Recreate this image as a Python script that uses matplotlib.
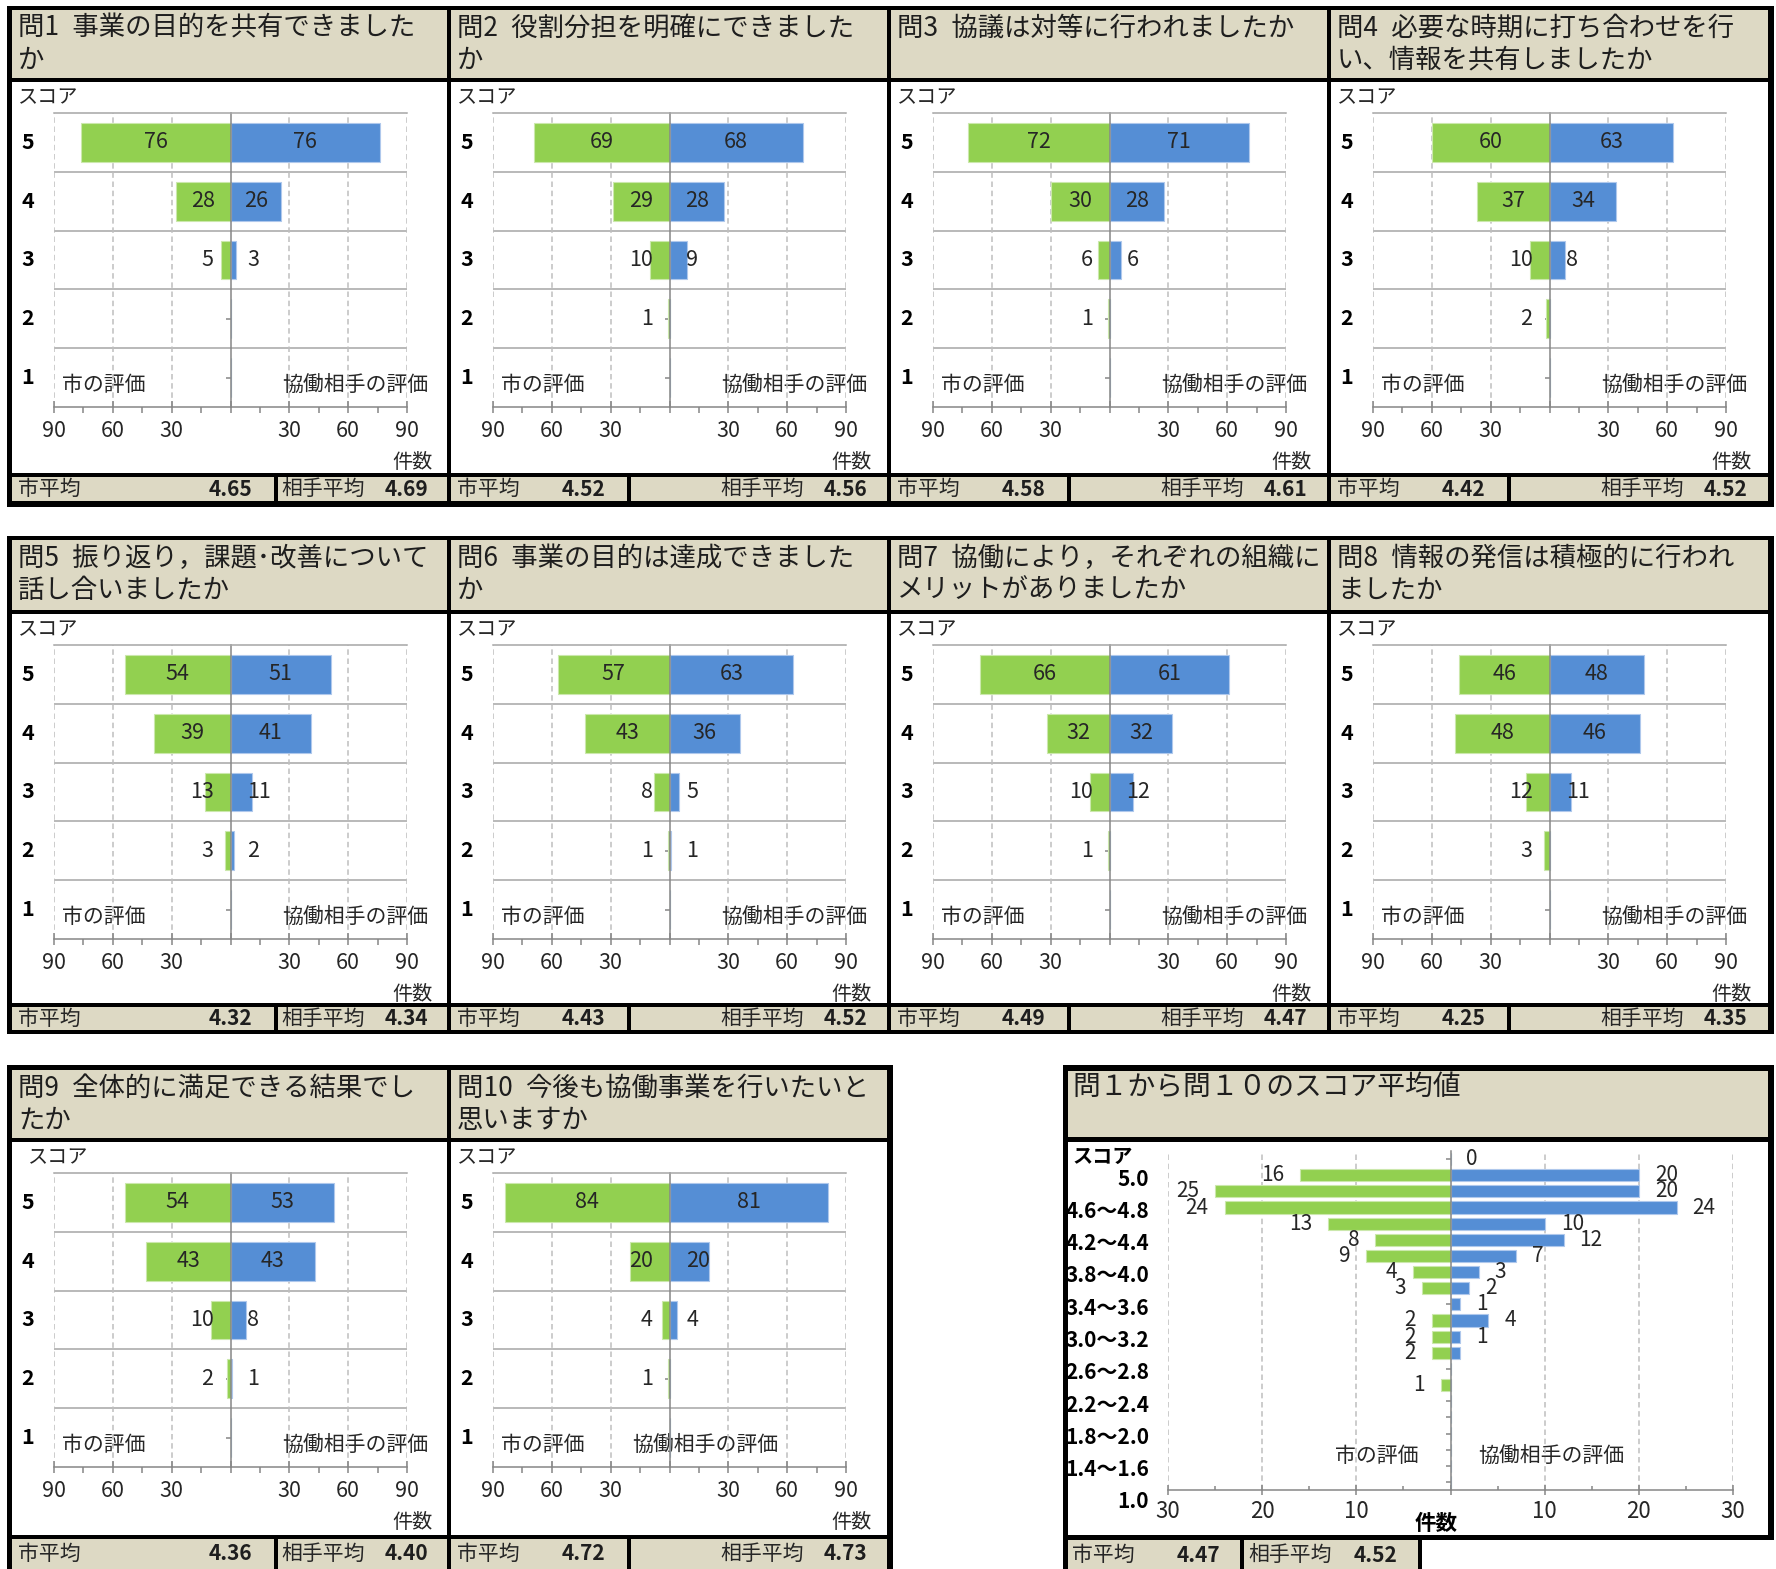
import matplotlib
matplotlib.use("Agg")
import matplotlib.pyplot as plt
from matplotlib.patches import Rectangle
from matplotlib.transforms import blended_transform_factory

plt.rcParams['font.family'] = ['Noto Sans CJK JP', 'DejaVu Sans']

# ---------------------------------------------------------------- data
scores = [5, 4, 3, 2, 1]

titles = [
    "問1\u2002事業の目的を共有できました\nか",
    "問2\u2002役割分担を明確にできました\nか",
    "問3\u2002協議は対等に行われましたか",
    "問4\u2002必要な時期に打ち合わせを行\nい、情報を共有しましたか",
    "問5\u2002振り返り，課題･改善について\n話し合いましたか",
    "問6\u2002事業の目的は達成できました\nか",
    "問7\u2002協働により，それぞれの組織に\nメリットがありましたか",
    "問8\u2002情報の発信は積極的に行われ\nましたか",
    "問9\u2002全体的に満足できる結果でし\nたか",
    "問10\u2002今後も協働事業を行いたいと\n思いますか",
]

# counts per score (5, 4, 3, 2, 1)
city_counts = [
    [76, 28, 5, 0, 0],
    [69, 29, 10, 1, 0],
    [72, 30, 6, 1, 0],
    [60, 37, 10, 2, 0],
    [54, 39, 13, 3, 0],
    [57, 43, 8, 1, 0],
    [66, 32, 10, 1, 0],
    [46, 48, 12, 3, 0],
    [54, 43, 10, 2, 0],
    [84, 20, 4, 1, 0],
]
partner_counts = [
    [76, 26, 3, 0, 0],
    [68, 28, 9, 0, 0],
    [71, 28, 6, 0, 0],
    [63, 34, 8, 0, 0],
    [51, 41, 11, 2, 0],
    [63, 36, 5, 1, 0],
    [61, 32, 12, 0, 0],
    [48, 46, 11, 0, 0],
    [53, 43, 8, 1, 0],
    [81, 20, 4, 0, 0],
]
city_means = ["4.65", "4.52", "4.58", "4.42", "4.32", "4.43", "4.49", "4.25", "4.36", "4.72"]
partner_means = ["4.69", "4.56", "4.61", "4.52", "4.34", "4.52", "4.47", "4.35", "4.40", "4.73"]

# distribution of the mean score over Q1-Q10 (21 bins, top = highest)
summary_city = [0, 16, 25, 24, 13, 8, 9, 4, 3, 0, 2, 2, 2, 0, 1, 0, 0, 0, 0, 0, 0]
summary_partner = [0, 20, 20, 24, 10, 12, 7, 3, 2, 1, 4, 1, 1, 0, 0, 0, 0, 0, 0, 0, 0]
summary_city_labeled = [v > 0 for v in summary_city]
summary_partner_labeled = [True, True, True, True, True, True, True, True, True, True,
                           True, True, False, False, False, False, False, False, False, False, False]
summary_bins = ["5.0", "4.6～4.8", "4.2～4.4", "3.8～4.0", "3.4～3.6", "3.0～3.2",
                "2.6～2.8", "2.2～2.4", "1.8～2.0", "1.4～1.6", "1.0"]
summary_title = "問１から問１０のスコア平均値"
summary_city_mean = "4.47"
summary_partner_mean = "4.52"

# ---------------------------------------------------------------- style
W, H = 1776, 1569
GREEN = '#92D050'
BLUE = '#558ED5'
GREEN_EDGE = '#CBE8AC'
BLUE_EDGE = '#AFC8EC'
BEIGE = '#DDD9C4'
TXT = '#262626'
GRID = '#BFBFBF'
LINE = '#A6A6A6'
AXIS = '#868686'
LW = 1.1

fig = plt.figure(figsize=(W / 100, H / 100), dpi=100)
fig.patch.set_facecolor('white')

canvas = fig.add_axes([0, 0, 1, 1])
canvas.set_xlim(0, W)
canvas.set_ylim(H, 0)
canvas.axis('off')


def box(x0, y0, x1, y1, color):
    canvas.add_patch(Rectangle((x0, y0), x1 - x0, y1 - y0, facecolor=color,
                               edgecolor='none', zorder=1))


def frac(x0, y0, x1, y1):
    return [x0 / W, 1 - y1 / H, (x1 - x0) / W, (y1 - y0) / H]


# row geometry (pixels): outer top, header, chart area, footer, outer bottom
rows = [
    dict(top=6, head=(10, 78), chart=(82, 473), foot=(477, 501), bottom=507, x=(7, 1774)),
    dict(top=536, head=(540, 610), chart=(614, 1003), foot=(1007, 1030), bottom=1034, x=(7, 1774)),
    dict(top=1065, head=(1070, 1138), chart=(1142, 1535), foot=(1539, 1569), bottom=1575, x=(7, 893)),
]
panel_x = [(12, 447), (451, 887), (891, 1327), (1331, 1768)]
panel_pos = [(0, 0), (0, 1), (0, 2), (0, 3), (1, 0), (1, 1), (1, 2), (1, 3), (2, 0), (2, 1)]

for r in rows:
    box(r['x'][0], r['top'], r['x'][1], r['bottom'], 'black')


def draw_panel(i):
    ri, ci = panel_pos[i]
    r = rows[ri]
    L, R = panel_x[ci]
    h0, h1 = r['head']
    c0, c1 = r['chart']
    f0, f1 = r['foot']
    box(L, h0, R, h1, BEIGE)
    box(L, c0, R, c1, 'white')
    box(L, f0, R, f1, BEIGE)

    # title (two lines at most), kept inside its header cell
    head_clip = Rectangle((L, h0), R - L, h1 - h0, transform=canvas.transData)
    for k, line in enumerate(titles[i].split('\n')):
        t = canvas.text(L + 6, h0 + 18 + 32 * k, line, fontsize=19, color='#1e1e1e',
                        ha='left', va='center', zorder=3)
        t.set_clip_path(head_clip)

    # footer
    split = 262 if ci == 0 else 176
    box(L + split, f0, L + split + 4, f1, 'black')
    fy = (f0 + f1) / 2
    canvas.text(L + 6, fy, "市平均", fontsize=15, color=TXT, ha='left', va='center', zorder=3)
    canvas.text(L + split - 22, fy, city_means[i], fontsize=15, fontweight='bold',
                color='#1e1e1e', ha='right', va='center', zorder=3)
    canvas.text(L + 269, fy, "相手平均", fontsize=15, color=TXT, ha='left', va='center', zorder=3)
    canvas.text(L + 416, fy, partner_means[i], fontsize=15, fontweight='bold',
                color='#1e1e1e', ha='right', va='center', zorder=3)

    # chart
    ax = fig.add_axes(frac(L + 42, c0 + 31, L + 395, c0 + 325))
    ax.patch.set_visible(False)
    ax.set_xlim(-90, 90)
    ax.set_ylim(0.5, 5.5)
    ax.spines['right'].set_visible(False)
    ax.spines['left'].set_position(('data', 0))
    ax.spines['left'].set_color(AXIS)
    ax.spines['left'].set_linewidth(LW)
    ax.spines['bottom'].set_color(AXIS)
    ax.spines['bottom'].set_linewidth(LW)
    ax.spines['top'].set_color(LINE)
    ax.spines['top'].set_linewidth(LW)
    for yb in [1.5, 2.5, 3.5, 4.5]:
        ax.axhline(yb, color=LINE, lw=LW, zorder=1)
    for xg in [-90, -60, -30, 30, 60, 90]:
        ax.axvline(xg, color=GRID, lw=LW, ls=(0, (3.6, 2.4)), zorder=1)

    city = city_counts[i]
    partner = partner_counts[i]
    ax.barh(scores, [-v for v in city], height=0.66, color=GREEN,
            edgecolor=GREEN_EDGE, linewidth=0.8, zorder=2)
    ax.barh(scores, partner, height=0.66, color=BLUE,
            edgecolor=BLUE_EDGE, linewidth=0.8, zorder=2)

    ax.set_yticks(scores)
    ax.tick_params(axis='y', direction='out', length=3.5, width=LW, color=AXIS,
                   labelleft=False)
    ax.set_xticks([-90, -60, -30, 0, 30, 60, 90])
    ax.set_xticks([-75, -45, -15, 15, 45, 75], minor=True)
    ax.tick_params(axis='x', which='major', direction='inout', length=8.5, width=LW,
                   color=AXIS, labelbottom=False)
    ax.tick_params(axis='x', which='minor', direction='out', length=4.3, width=LW,
                   color=AXIS)

    for s, v in zip(scores, city):
        if v == 0:
            continue
        if v > 20:
            ax.text(-v / 2, s, str(v), fontsize=15.5, color=TXT, ha='center',
                    va='center', zorder=4)
        else:
            ax.annotate(str(v), xy=(0, s), xytext=(-12.2, 0), textcoords='offset points',
                        fontsize=15.5, color=TXT, ha='right', va='center', zorder=4)
    for s, v in zip(scores, partner):
        if v == 0:
            continue
        if v > 20:
            ax.text(v / 2, s, str(v), fontsize=15.5, color=TXT, ha='center',
                    va='center', zorder=4)
        else:
            ax.annotate(str(v), xy=(0, s), xytext=(12.2, 0), textcoords='offset points',
                        fontsize=15.5, color=TXT, ha='left', va='center', zorder=4)

    # axis texts
    ty = blended_transform_factory(canvas.transData, ax.transData)
    for s in scores:
        ax.text(L + 16, s, str(s), transform=ty, fontsize=15.5, fontweight='bold',
                color='black', ha='center', va='center')
    tx = blended_transform_factory(ax.transData, canvas.transData)
    for xv in [-90, -60, -30, 30, 60, 90]:
        ax.text(xv, c0 + 349, str(abs(xv)), transform=tx, fontsize=15.5, color=TXT,
                ha='center', va='center', clip_on=False)
    canvas.text(L + (16 if i == 8 else 6), c0 + 16, "スコア", fontsize=14.5, color=TXT,
                ha='left', va='center', zorder=3)
    canvas.text(L + 50, c0 + 303, "市の評価", fontsize=15, color=TXT,
                ha='left', va='center', zorder=3)
    if i == 9:
        canvas.text(L + 181, c0 + 303, "協働相手の評価", fontsize=15, color=TXT,
                    ha='left', va='center', zorder=3)
    else:
        canvas.text(L + 416, c0 + 303, "協働相手の評価", fontsize=15, color=TXT,
                    ha='right', va='center', zorder=3)
    canvas.text(L + 421, c0 + 380, "件数", fontsize=14.5, color=TXT,
                ha='right', va='center', zorder=3)


for i in range(10):
    draw_panel(i)

# ---------------------------------------------------------------- summary panel
SL, SR = 1068, 1768
box(1063, 1065, 1774, 1540, 'black')
box(1063, 1535, 1422, 1575, 'black')
box(SL, 1071, SR, 1137, BEIGE)
box(SL, 1142, SR, 1535, 'white')
box(SL, 1540, 1240, 1575, BEIGE)
box(1244, 1540, 1418, 1575, BEIGE)

canvas.text(1072, 1087, summary_title, fontsize=20, color='#1e1e1e',
            ha='left', va='center', zorder=3)
canvas.text(1072, 1555, "市平均", fontsize=15, color=TXT, ha='left', va='center', zorder=3)
canvas.text(1220, 1555, summary_city_mean, fontsize=15, fontweight='bold',
            color='#1e1e1e', ha='right', va='center', zorder=3)
canvas.text(1248, 1555, "相手平均", fontsize=15, color=TXT, ha='left', va='center', zorder=3)
canvas.text(1397, 1555, summary_partner_mean, fontsize=15, fontweight='bold',
            color='#1e1e1e', ha='right', va='center', zorder=3)

sax = fig.add_axes(frac(1168, 1151, 1733, 1490))
sax.patch.set_visible(False)
sax.set_xlim(-30, 30)
n = len(summary_city)
sax.set_ylim(n - 0.5, -0.5)
sax.spines['right'].set_visible(False)
sax.spines['top'].set_visible(False)
sax.spines['left'].set_position(('data', 0))
sax.spines['left'].set_color(AXIS)
sax.spines['left'].set_linewidth(LW)
sax.spines['bottom'].set_color(AXIS)
sax.spines['bottom'].set_linewidth(LW)
for xg in [-30, -20, -10, 10, 20, 30]:
    sax.axvline(xg, color=GRID, lw=LW, ls=(0, (3.6, 2.4)), zorder=1)

rows_idx = list(range(n))
sax.barh(rows_idx, [-v for v in summary_city], height=0.75, color=GREEN,
         edgecolor=GREEN_EDGE, linewidth=0.8, zorder=2)
sax.barh(rows_idx, summary_partner, height=0.75, color=BLUE,
         edgecolor=BLUE_EDGE, linewidth=0.8, zorder=2)
sax.set_yticks(rows_idx)
sax.tick_params(axis='y', direction='out', length=3.6, width=LW, color=AXIS, labelleft=False)
sax.set_xticks([-30, -20, -10, 0, 10, 20, 30])
sax.set_xticks([-25, -15, -5, 5, 15, 25], minor=True)
sax.tick_params(axis='x', which='major', direction='inout', length=6.5, width=LW,
                color=AXIS, labelbottom=False)
sax.tick_params(axis='x', which='minor', direction='in', length=3.2, width=LW, color=AXIS)

for j, (v, show) in enumerate(zip(summary_city, summary_city_labeled)):
    if show:
        sax.annotate(str(v), xy=(-v, j), xytext=(-11.5, 0), textcoords='offset points',
                     fontsize=15, color=TXT, ha='right', va='center', zorder=4)
for j, (v, show) in enumerate(zip(summary_partner, summary_partner_labeled)):
    if show:
        sax.annotate(str(v), xy=(v, j), xytext=(11.5, 0), textcoords='offset points',
                     fontsize=15, color=TXT, ha='left', va='center', zorder=4)

# score-range labels are clipped by the panel border on the left
label_clip = Rectangle((SL, 1142), SR - SL, 393, transform=canvas.transData)
sty = blended_transform_factory(canvas.transData, sax.transData)
for k, lab in enumerate(summary_bins):
    t = sax.text(1149, 2 * k + 1.24, lab, transform=sty, fontsize=15, fontweight='bold',
                 color='black', ha='right', va='center')
    t.set_clip_path(label_clip)
stx = blended_transform_factory(sax.transData, canvas.transData)
for xv in [-30, -20, -10, 10, 20, 30]:
    sax.text(xv, 1512, str(abs(xv)), transform=stx, fontsize=16, color=TXT,
             ha='center', va='center', clip_on=False)
canvas.text(1072, 1156, "スコア", fontsize=14.5, fontweight='bold', color='black',
            ha='left', va='center', zorder=3)
canvas.text(1436, 1523, "件数", fontsize=15.5, fontweight='bold', color='black',
            ha='center', va='center', zorder=3)
canvas.text(1418, 1456, "市の評価", fontsize=15, color=TXT, ha='right', va='center', zorder=3)
canvas.text(1478, 1456, "協働相手の評価", fontsize=15, color=TXT, ha='left', va='center', zorder=3)

fig.savefig("out.png", dpi=100, facecolor='white')
